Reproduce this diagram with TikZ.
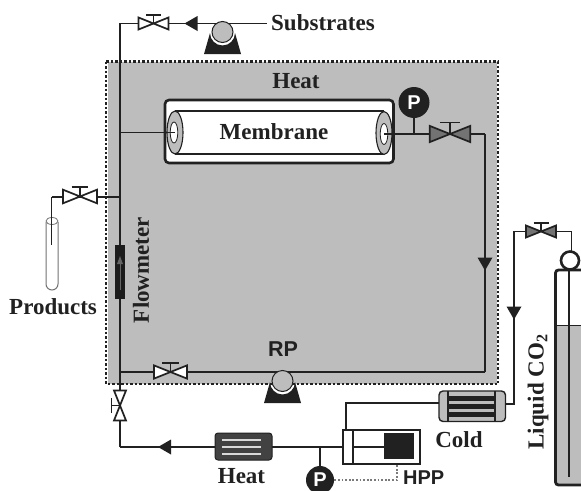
\documentclass[tikz,border=0pt]{standalone}
\usepackage{fontspec}
\setmainfont{Liberation Serif}
\setsansfont{Liberation Sans}
\definecolor{ink}{gray}{0.13}
\definecolor{heatgray}{gray}{0.74}
\tikzset{x=1pt,y=-1pt,
 pipe/.style={line width=1.5pt,draw=ink},
 fatpipe/.style={line width=2pt,draw=ink},
 lbl/.style={font=\bfseries\fontsize{23}{25}\selectfont,text=ink,inner sep=0pt},
 sflbl/.style={font=\sffamily\bfseries\fontsize{21.5}{24}\selectfont,text=ink,inner sep=0pt},
 valve/.pic={
   \draw[line width=1.7pt,draw=ink,fill=#1,line join=miter] (-15,-6)--(15,6)--(15,-6)--(-15,6)--cycle;
   \draw[line width=1.7pt,draw=ink] (0,0)--(0,-8.5) (-7.5,-8.5)--(7.5,-8.5);
 },
 pump/.pic={
   \fill[ink] (-18.5,22) -- (-12.5,1) arc[start angle=180,end angle=0,radius=12.5] -- (18.5,22) -- cycle;
   \draw[line width=1pt,draw=ink,fill=heatgray] (0,0) circle (10.5);
 },
 tip/.pic={\fill[ink] (0,6.5)--(-7.5,-6.5)--(7.5,-6.5)--cycle;},
 gauge/.pic={\fill[ink] (0,0) circle (#1);\node[font=\sffamily\bfseries\fontsize{20}{20}\selectfont,text=white,inner sep=0pt] {P};}
}
\begin{document}
\begin{tikzpicture}
\useasboundingbox (0,0) rectangle (581,490);
\fill[white] (0,0) rectangle (581,490);
% heated region
\fill[heatgray] (108,62) rectangle (497,384);
\draw[line width=2.2pt,dash pattern=on 2.5pt off 2pt,draw=ink] (106,61.5) rectangle (498,384);
% junctions
\coordinate (subsEnd) at (267,23.5);
\coordinate (tl) at (120,23.5);
\coordinate (memL) at (120,132.5);
\coordinate (prodJ) at (120,196.5);
\coordinate (prodC) at (51.5,196.5);
\coordinate (prodEnd) at (51.5,245);
\coordinate (tr) at (485,134);
\coordinate (br) at (485,372);
\coordinate (bl) at (120,372);
\coordinate (lowL) at (120,447);
\coordinate (gJ) at (320,447);
\coordinate (hppIn) at (343,447);
\coordinate (hppUp) at (346,430);
\coordinate (hppC) at (346,403);
\coordinate (coldL) at (439,403);
\coordinate (coldR) at (505,404);
\coordinate (riseB) at (514,404);
\coordinate (riseT) at (514,231.5);
\coordinate (tankT) at (571.5,231.5);
\coordinate (tankV) at (571.5,252);
% pipes
\draw[pipe] (lowL)--(tl)--(subsEnd);
\draw[pipe] (memL)--(175,132.5);
\draw[fatpipe] (prodJ)--(prodC);
\draw[pipe] (prodC)--(prodEnd);
\draw[pipe] (384,134)--(tr);
\draw[fatpipe] (tr)--(br);
\draw[pipe] (br)--(bl);
\draw[pipe] (lowL)--(215,447);
\draw[pipe] (272,447)--(hppIn);
\draw[pipe] (hppUp)--(hppC)--(coldL);
\draw[pipe] (coldR)--(riseB)--(riseT)--(tankT)--(tankV);
% membrane
\draw[line width=2.6pt,draw=ink,fill=white,rounded corners=4pt] (165,100) rectangle (393.5,163);
\draw[line width=1.1pt,draw=ink] (175,111)--(384,111) (175,154)--(384,154);
\node[lbl] (mem) at (274,132) {Membrane};
\draw[line width=1.1pt,draw=ink,fill=heatgray] (175,132.5) ellipse (8 and 21.5);
\draw[line width=.8pt,draw=ink,fill=white] (174,132.5) ellipse (3.8 and 10.5);
\draw[line width=1.1pt,draw=ink,fill=heatgray] (384,133) ellipse (8 and 21.5);
\draw[line width=.8pt,draw=ink,fill=white] (384,134) ellipse (3.8 and 10.5);
\draw[pipe] (165,132.5)--(175,132.5);
\draw[pipe] (384,134)--(400,134);
% gauges
\draw[pipe] (414,134)--(414,102);
\pic at (414,102.5) {gauge=15.5};
\draw[line width=1.3pt,draw=ink!60,dash pattern=on 1.8pt off 1.8pt] (320,480)--(397,480)--(397,465);
\draw[pipe] (gJ)--(320,480);
\pic at (320,480) {gauge=14};
% valves
\pic at (153.5,23.5) {valve=white};
\pic[scale=1.13] at (80,196.5) {valve=white};
\pic[scale=1.35] at (450,134) {valve=black!55};
\pic[scale=1.1] at (170.5,372) {valve=white};
\pic[rotate=90] at (120,405.5) {valve=white};
\pic at (541,231.5) {valve=black!55};
% pumps
\pic at (222.5,32) {pump};
\pic at (282.5,381) {pump};
% arrowheads
\pic[rotate=-90] at (191,23.5) {tip};
\pic at (485,264) {tip};
\pic at (514,313) {tip};
\pic[rotate=-90] at (164.5,447) {tip};
% labels
\node[lbl,anchor=west] (subs) at (271,23) {Substrates};
\node[lbl] (heatA) at (296,81) {Heat};
\node[lbl,anchor=west] (prod) at (9,307) {Products};
\node[lbl,rotate=90] (flow) at (141,270) {Flowmeter};
\node[sflbl] (rp) at (283,349) {RP};
\node[lbl] (heatB) at (241.5,476) {Heat};
\node[lbl] (cold) at (459,440) {Cold};
\node[sflbl,font=\sffamily\bfseries\fontsize{20}{22}\selectfont,anchor=north west] (hpp) at (403,470.5) {HPP};
\node[lbl,rotate=90] (co2) at (538,392) {Liquid CO\textsubscript{2}};
% products tube
\draw[line width=1pt,draw=black!55] (46,222)--(46,284) arc[start angle=180,end angle=360,x radius=6,y radius=-6]--(58,222);
\draw[line width=.8pt,draw=black!55] (52,221) ellipse (6 and 3.5);
\draw[pipe] (51.5,216)--(prodEnd);
% flowmeter
\fill[ink!85!black] (115,245) rectangle (124.5,299);
\draw[line width=.8pt,draw=black!60] (120,290)--(120,262);
\fill[black!60] (120,256)--(117,264)--(123,264)--cycle;
% heat exchanger (hot)
\draw[line width=1pt,draw=ink,fill=ink!85!white,rounded corners=3pt] (215,433) rectangle (272,460);
\draw[line width=1.4pt,draw=white!85!black] (222,440)--(261,440) (222,447)--(261,447) (222,454)--(261,454);
% heat exchanger (cold)
\draw[line width=1.4pt,draw=ink,fill=heatgray,rounded corners=4pt] (439,391) rectangle (505.5,421.5);
\foreach \yy in {395.5,403.5,412}{\fill[ink] (448,\yy) rectangle (495,\yy+5);}
\draw[line width=1.2pt,draw=ink] (448,391)--(448,421.5) (495,391)--(495,421.5);
% HPP cylinder
\draw[line width=1.8pt,draw=ink,fill=white] (343,430) rectangle (420,464);
\draw[line width=1.4pt,draw=ink] (353,430)--(353,464) (353,447)--(385,447);
\fill[ink] (384,433) rectangle (414,459);
% tank
\draw[line width=2.6pt,draw=ink,fill=white] (570,260.5) circle (9);
\fill[heatgray] (555,325) rectangle (581,485);
\draw[line width=.8pt,draw=ink] (555,325)--(581,325);
\draw[line width=1.1pt,draw=ink] (569,270)--(569,477);
\draw[line width=2.8pt,draw=ink,rounded corners=3pt] (581,270)--(555.5,270)--(555.5,485)--(581,485);
\end{tikzpicture}
\end{document}
